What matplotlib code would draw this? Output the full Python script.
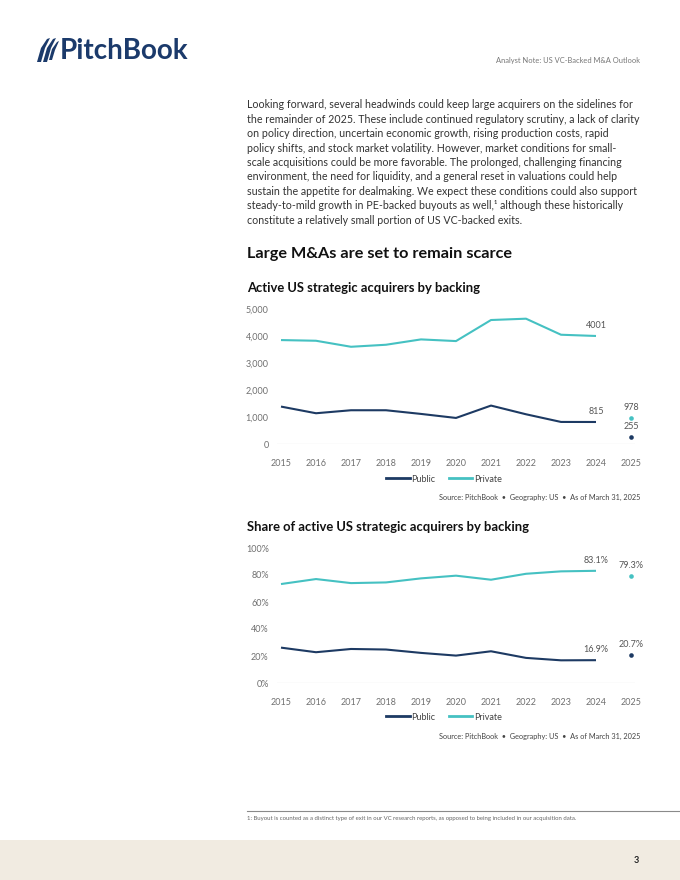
import matplotlib
matplotlib.use("Agg")
import matplotlib.pyplot as plt
from matplotlib.patches import Polygon, Rectangle
from matplotlib.lines import Line2D

# ---------------- data ----------------
years = [2015, 2016, 2017, 2018, 2019, 2020, 2021, 2022, 2023, 2024, 2025]
year_labels = [str(y) for y in years]
public_count = [1386, 1139, 1250, 1250, 1114, 965, 1423, 1101, 817, 815, 255]
private_count = [3849, 3824, 3601, 3676, 3874, 3812, 4592, 4641, 4047, 4001, 978]
public_share = [26.2, 22.8, 25.2, 24.8, 22.3, 20.3, 23.5, 18.6, 16.8, 16.9, 20.7]
private_share = [73.3, 77.0, 74.0, 74.5, 77.5, 79.5, 76.5, 80.9, 82.7, 83.1, 79.3]
count_ticks = [0, 1000, 2000, 3000, 4000, 5000]
count_tick_labels = ["0", "1,000", "2,000", "3,000", "4,000", "5,000"]
share_ticks = [0, 20, 40, 60, 80, 100]
share_tick_labels = ["0%", "20%", "40%", "60%", "80%", "100%"]
series_names = ["Public", "Private"]

PUBLIC = "#1d3a63"
PRIVATE = "#45c1c2"
NAVY = "#1b3a6b"
GREY = "#707070"

W, H = 680, 880
fig = plt.figure(figsize=(W / 100, H / 100), dpi=100)
fig.patch.set_facecolor("white")
FONT = ["Lato", "DejaVu Sans"]


def P(x, y):
    return (x / W, 1 - y / H)


def ftext(x, y, s, **kw):
    kw.setdefault("family", FONT)
    fig.text(*P(x, y), s, **kw)


# ---------------- header ----------------
sails = [
    [(37, 62), (41, 48), (47, 39), (50, 38), (45, 48), (41, 62)],
    [(43, 62), (47, 48), (53, 39), (56, 38), (51, 48), (47, 62)],
    [(49, 60), (52, 49), (57, 42), (59, 41), (55, 50), (52, 60)],
]
for s in sails:
    fig.patches.append(Polygon([P(x, y) for x, y in s], closed=True,
                               transform=fig.transFigure, color=NAVY, lw=0))
ftext(60, 51, "PitchBook", fontsize=20, fontweight="bold", color=NAVY,
      ha="left", va="center")
ftext(640, 60, "Analyst Note: US VC-Backed M&A Outlook", fontsize=5.4, color="#777777",
      ha="right", va="center")

# ---------------- body text ----------------
body = [
    "Looking forward, several headwinds could keep large acquirers on the sidelines for",
    "the remainder of 2025. These include continued regulatory scrutiny, a lack of clarity",
    "on policy direction, uncertain economic growth, rising production costs, rapid",
    "policy shifts, and stock market volatility. However, market conditions for small-",
    "scale acquisitions could be more favorable. The prolonged, challenging financing",
    "environment, the need for liquidity, and a general reset in valuations could help",
    "sustain the appetite for dealmaking. We expect these conditions could also support",
    "steady-to-mild growth in PE-backed buyouts as well,\u00b9 although these historically",
    "constitute a relatively small portion of US VC-backed exits.",
]
for i, line in enumerate(body):
    ftext(247, 104 + i * 14.4, line, fontsize=7.65, color="#333333",
          ha="left", va="center_baseline")

ftext(247, 254, "Large M&As are set to remain scarce", fontsize=11.7,
      fontweight="bold", color="#111111", ha="left", va="center")


# ---------------- charts ----------------
def make_chart(title, top_px, bottom_px, title_y, pub, pri, ymax, ticks, tlabels,
               fmt, legend_y, source_y):
    ax = fig.add_axes([277 / W, 1 - bottom_px / H, (635 - 277) / W,
                       (bottom_px - top_px) / H])
    ax.set_xlim(2015 - 4 / 35, 2025 + 4 / 35)
    ax.set_ylim(0, ymax)
    for sp in ax.spines.values():
        sp.set_visible(False)
    ax.axhline(0, color="#bdbdbd", lw=0.8, zorder=1)
    ax.set_yticks(ticks)
    ax.set_yticklabels(tlabels)
    ax.set_xticks(years)
    ax.set_xticklabels(year_labels)
    ax.tick_params(axis="y", length=0, pad=6, labelsize=6.5, labelcolor=GREY)
    ax.tick_params(axis="x", length=0, pad=10.5, labelsize=6.5, labelcolor=GREY)
    for lab in ax.get_xticklabels() + ax.get_yticklabels():
        lab.set_family(FONT)
    ax.patch.set_alpha(0)
    ax.plot(years[:-1], pub[:-1], color=PUBLIC, lw=1.5, zorder=3,
            solid_capstyle="butt")
    ax.plot(years[:-1], pri[:-1], color=PRIVATE, lw=1.5, zorder=3,
            solid_capstyle="butt")
    ax.scatter([years[-1]], [pub[-1]], s=11, color=PUBLIC, zorder=4, lw=0)
    ax.scatter([years[-1]], [pri[-1]], s=11, color=PRIVATE, zorder=4, lw=0)
    for x, v in [(years[-2], pub[-2]), (years[-2], pri[-2]),
                 (years[-1], pub[-1]), (years[-1], pri[-1])]:
        ax.annotate(fmt(v), (x, v), xytext=(0, 7.5), textcoords="offset points",
                    ha="center", va="center", fontsize=6.5, color="#555555",
                    family=FONT)
    ftext(247, title_y, title, fontsize=9.4, fontweight="bold",
          color="#111111", ha="left", va="center")
    handles = [Line2D([], [], color=PUBLIC, lw=2), Line2D([], [], color=PRIVATE, lw=2)]
    leg = fig.legend(handles, series_names, loc="center",
                     bbox_to_anchor=P(444, legend_y), ncol=2, frameon=False,
                     handlelength=2.6, handletextpad=0.15,
                     columnspacing=1.5, prop={"family": FONT, "size": 6.5})
    for t in leg.get_texts():
        t.set_color("#444444")
    ftext(640, source_y, "Source: PitchBook  \u2022  Geography: US  \u2022  As of March 31, 2025",
          fontsize=5.3, color="#444444", ha="right", va="center")
    return ax


make_chart("Active US strategic acquirers by backing", 309, 444, 288,
           public_count, private_count, 5000, count_ticks,
           count_tick_labels, lambda v: f"{v:.0f}", 479, 497)
make_chart("Share of active US strategic acquirers by backing", 548, 683, 527,
           public_share, private_share, 100, share_ticks,
           share_tick_labels, lambda v: f"{v:.1f}%", 717, 736)

# ---------------- footer ----------------
fig.add_artist(Line2D([247 / W, 1.0], [1 - 811 / H, 1 - 811 / H],
                      transform=fig.transFigure, color="#8a8a8a", lw=0.8))
ftext(247, 818, "1: Buyout is counted as a distinct type of exit in our VC research reports, "
      "as opposed to being included in our acquisition data.", fontsize=4.3,
      color="#666666", ha="left", va="center",
      family=["Liberation Sans Narrow", "Lato", "DejaVu Sans"])
fig.patches.append(Rectangle((0, 0), 1, 40 / H, transform=fig.transFigure,
                             color="#f1ebe1", lw=0, zorder=0))
ftext(636, 860, "3", fontsize=6.5, fontweight="bold", color="#222222",
      ha="center", va="center")

fig.savefig("out.png", dpi=100, facecolor="white")
